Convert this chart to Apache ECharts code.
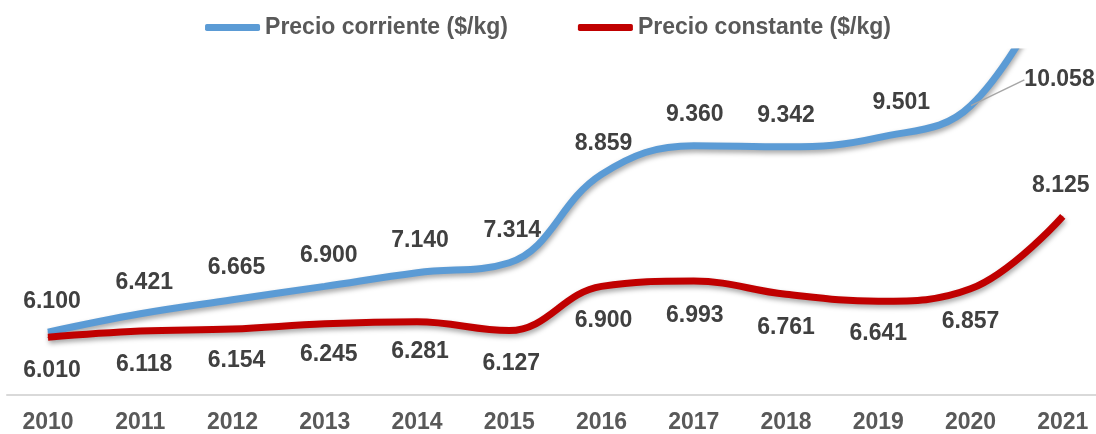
<!DOCTYPE html>
<html>
<head>
<meta charset="utf-8">
<script src="https://cdn.jsdelivr.net/npm/echarts@6/dist/echarts.min.js"></script>
<style>
  html, body { margin: 0; padding: 0; background: #fff; }
  #chart { width: 1096px; height: 434px; }
</style>
</head>
<body>
<div id="chart"></div>
<script>
// datos
var years = ['2010', '2011', '2012', '2013', '2014', '2015', '2016', '2017', '2018', '2019', '2020', '2021']
var corriente = [6.100, 6.421, 6.665, 6.900, 7.140, 7.314, 8.859, 9.360, 9.342, 9.501, 10.058, 12.6]
var constante = [6.010, 6.118, 6.154, 6.245, 6.281, 6.127, 6.900, 6.993, 6.761, 6.641, 6.857, 8.125]

// desplazamiento de etiquetas (px)
var offCorriente = [[4, -30], [4, -31], [4, -32], [4, -31], [3, -32], [3, -32], [2, -31], [1, -31], [0, -31], [23, -35], [89, -26], null]
var offConstante = [[4, 33], [4, 34], [4, 32], [4, 31], [3, 30], [2, 33], [2, 34], [1, 35], [0, 33], [0, 32], [0, 33], [-2, -31]]
var leaderIdx = 10

function items(values, offsets, leader) {
  return values.map(function(v, i) {
    if (!offsets[i]) return { value: [i, v], label: { show: false } }
    var it = { value: [i, v] }
    if (i === leader) it.labelLine = { show: true }
    return it
  })
}

function layoutFor(offsets, leader) {
  return function(p) {
    var o = offsets[p.dataIndex]
    if (!o) return
    var res = { dx: o[0], dy: o[1] }
    if (p.dataIndex === leader) {
      var r = p.rect, l = p.labelRect
      var ax = r.x + r.width / 2 + 2, ay = r.y + r.height / 2
      var lx = l.x + o[0], ly = l.y + o[1] + l.height / 2 - 2
      res.labelLinePoints = [[ax, ay], [lx - 20, ly], [lx - 8, ly]]
    }
    return res
  }
}

var font = 'Liberation Sans, Arial, sans-serif'
var labelStyle = {
  show: true,
  position: 'inside',
  fontFamily: font,
  fontSize: 23,
  fontWeight: 'bold',
  color: '#404040',
  formatter: function(p) { return p.value[1].toFixed(3) }
}

var chart = echarts.init(document.getElementById('chart'))
chart.setOption({
  backgroundColor: '#fff',
  animation: false,
  legend: {
    left: 'center',
    top: 11,
    icon: 'roundRect',
    itemWidth: 55,
    itemHeight: 7,
    itemGap: 70,
    textStyle: { fontFamily: font, fontSize: 23, fontWeight: 'bold', color: '#595959' }
  },
  grid: { left: 7, right: 0, top: 52, bottom: 39 },
  xAxis: {
    type: 'value',
    min: -0.444,
    max: 11.36,
    splitLine: { show: false },
    axisLine: { show: true, onZero: false, lineStyle: { color: '#d9d9d9', width: 2 } },
    axisTick: { show: false },
    axisLabel: {
      customValues: years.map(function(y, i) { return i }),
      formatter: function(v) { return years[Math.round(v)] },
      margin: 16, fontFamily: font, fontSize: 23, fontWeight: 'bold', color: '#595959'
    }
  },
  yAxis: {
    type: 'value',
    min: 5,
    max: 11,
    show: false,
    splitLine: { show: false }
  },
  series: [
    {
      name: 'Precio corriente ($/kg)',
      type: 'line',
      smooth: 0.4,
      symbol: 'circle',
      symbolSize: 1,
      color: '#5b9bd5',
      lineStyle: { width: 7, color: '#5b9bd5', shadowColor: 'rgba(0,0,0,0.35)', shadowBlur: 5, shadowOffsetY: 3, shadowOffsetX: 1 },
      label: labelStyle,
      labelLine: { lineStyle: { color: '#a6a6a6', width: 1.5 } },
      labelLayout: layoutFor(offCorriente, leaderIdx),
      data: items(corriente, offCorriente, leaderIdx)
    },
    {
      name: 'Precio constante ($/kg)',
      type: 'line',
      smooth: 0.4,
      symbol: 'circle',
      symbolSize: 1,
      color: '#c00000',
      lineStyle: { width: 7, color: '#c00000', shadowColor: 'rgba(0,0,0,0.35)', shadowBlur: 5, shadowOffsetY: 3, shadowOffsetX: 1 },
      label: labelStyle,
      labelLayout: layoutFor(offConstante, -1),
      data: items(constante, offConstante, -1)
    }
  ]
})
</script>
</body>
</html>
